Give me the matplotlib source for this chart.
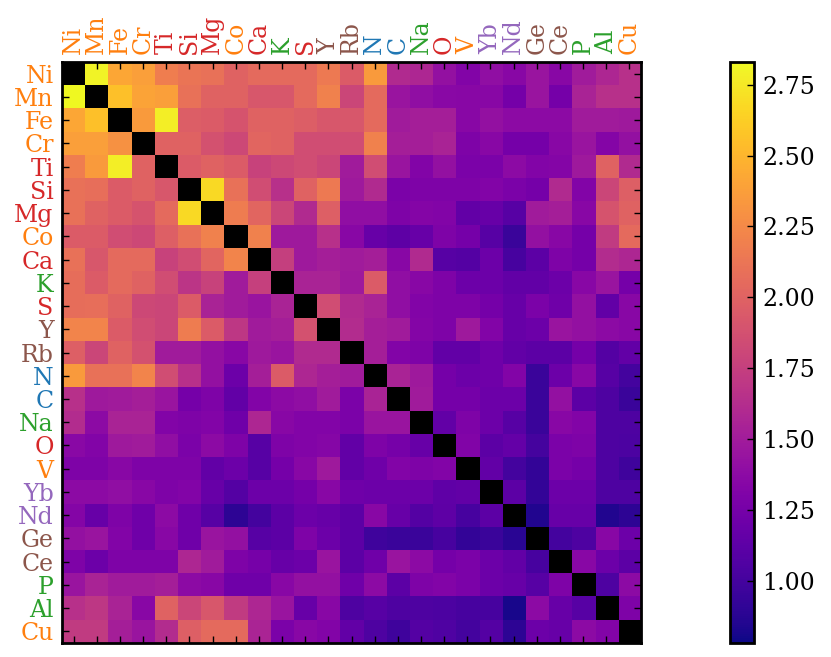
import numpy as np
import matplotlib
matplotlib.use("Agg")
import matplotlib.pyplot as plt

plt.rcParams['font.family'] = 'DejaVu Serif'

NAN = np.nan

elements = ["Ni", "Mn", "Fe", "Cr", "Ti", "Si", "Mg", "Co", "Ca", "K", "S", "Y", "Rb",
            "N", "C", "Na", "O", "V", "Yb", "Nd", "Ge", "Ce", "P", "Al", "Cu"]

# element group -> label colour
groups = ["iron", "iron", "iron", "iron", "alpha", "alpha", "alpha", "iron", "alpha", "odd",
          "alpha", "neutron", "neutron", "light", "light", "odd", "alpha", "iron", "rare",
          "rare", "neutron", "neutron", "odd", "odd", "iron"]
group_colors = {"iron": "#ff7f0e", "alpha": "#d62728", "odd": "#2ca02c",
                "neutron": "#8c564b", "light": "#1f77b4", "rare": "#9467bd"}

row_Ni = [NAN, 2.80, 2.42, 2.38, 2.18, 2.12, 2.10, 2.00, 2.05, 2.05, 2.05, 2.15, 1.95, 2.35, 1.60, 1.58, 1.42, 1.32, 1.40, 1.35, 1.45, 1.35, 1.50, 1.58, 1.65]
row_Mn = [2.83, NAN, 2.55, 2.40, 2.38, 2.10, 2.00, 2.00, 1.92, 1.92, 2.05, 2.20, 1.80, 2.05, 1.45, 1.40, 1.36, 1.35, 1.35, 1.25, 1.45, 1.25, 1.55, 1.65, 1.65]
row_Fe = [2.42, 2.55, NAN, 2.35, 2.78, 1.97, 1.95, 1.90, 2.00, 2.00, 1.97, 1.92, 1.92, 2.05, 1.50, 1.52, 1.52, 1.35, 1.42, 1.38, 1.38, 1.38, 1.50, 1.50, 1.48]
row_Cr = [2.38, 2.38, 2.30, NAN, 2.00, 2.00, 1.88, 1.82, 2.02, 2.00, 1.85, 1.85, 1.85, 2.20, 1.52, 1.52, 1.55, 1.30, 1.35, 1.25, 1.25, 1.35, 1.45, 1.33, 1.42]
row_Ti = [2.18, 2.35, 2.78, 2.00, NAN, 1.95, 2.00, 1.95, 1.78, 1.82, 1.85, 1.80, 1.50, 1.85, 1.45, 1.32, 1.42, 1.28, 1.28, 1.38, 1.32, 1.33, 1.48, 2.00, 1.60]
row_Si = [2.10, 2.08, 1.95, 2.00, 1.92, NAN, 2.68, 2.10, 1.85, 1.65, 2.00, 2.15, 1.48, 1.60, 1.28, 1.30, 1.30, 1.30, 1.32, 1.28, 1.25, 1.60, 1.32, 1.80, 1.98]
row_Mg = [2.10, 2.00, 1.95, 1.90, 2.05, 2.68, NAN, 2.17, 2.02, 1.80, 1.60, 1.98, 1.40, 1.40, 1.30, 1.33, 1.32, 1.15, 1.18, 1.10, 1.50, 1.52, 1.35, 1.90, 2.00]
row_Co = [1.95, 1.95, 1.85, 1.82, 1.98, 2.10, 2.20, NAN, 2.20, 1.48, 1.48, 1.65, 1.35, 1.18, 1.13, 1.18, 1.30, 1.25, 1.10, 0.95, 1.42, 1.35, 1.25, 1.72, 2.05]
row_Ca = [2.10, 1.92, 2.05, 2.05, 1.78, 1.85, 2.02, 2.22, NAN, 1.75, 1.48, 1.52, 1.50, 1.52, 1.35, 1.60, 1.10, 1.08, 1.20, 1.02, 1.12, 1.30, 1.25, 1.62, 1.58]
row_K = [2.07, 1.95, 2.05, 2.00, 1.85, 1.68, 1.78, 1.50, 1.76, NAN, 1.55, 1.55, 1.48, 1.95, 1.40, 1.35, 1.30, 1.20, 1.20, 1.15, 1.15, 1.20, 1.35, 1.45, 1.25]
row_S = [2.07, 2.08, 2.00, 1.82, 1.80, 1.95, 1.55, 1.50, 1.45, 1.55, NAN, 1.85, 1.60, 1.55, 1.40, 1.32, 1.30, 1.30, 1.25, 1.18, 1.28, 1.22, 1.42, 1.15, 1.35]
row_Y = [2.22, 2.22, 1.95, 1.85, 1.80, 2.17, 1.95, 1.70, 1.50, 1.52, 1.88, NAN, 1.62, 1.52, 1.50, 1.33, 1.30, 1.48, 1.32, 1.18, 1.20, 1.45, 1.42, 1.38, 1.35]
row_Rb = [1.98, 1.80, 2.00, 1.88, 1.50, 1.50, 1.42, 1.35, 1.48, 1.45, 1.60, 1.60, NAN, 1.52, 1.32, 1.30, 1.15, 1.15, 1.22, 1.15, 1.12, 1.12, 1.25, 1.08, 1.15]
row_N = [2.35, 2.10, 2.10, 2.22, 1.85, 1.65, 1.42, 1.20, 1.52, 1.95, 1.58, 1.52, 1.50, NAN, 1.55, 1.48, 1.25, 1.20, 1.22, 1.32, 0.95, 1.20, 1.35, 1.10, 1.00]
row_C = [1.65, 1.48, 1.50, 1.52, 1.45, 1.25, 1.30, 1.15, 1.32, 1.38, 1.40, 1.50, 1.28, 1.55, NAN, 1.50, 1.25, 1.25, 1.20, 1.20, 0.95, 1.42, 1.12, 1.05, 0.95]
row_Na = [1.62, 1.38, 1.55, 1.55, 1.32, 1.30, 1.32, 1.22, 1.58, 1.35, 1.32, 1.32, 1.28, 1.45, 1.45, NAN, 1.15, 1.30, 1.20, 1.10, 0.95, 1.35, 1.32, 1.05, 1.05]
row_O = [1.36, 1.32, 1.48, 1.50, 1.40, 1.28, 1.38, 1.30, 1.10, 1.30, 1.32, 1.34, 1.15, 1.30, 1.26, 1.18, NAN, 1.31, 1.12, 1.16, 1.01, 1.28, 1.30, 1.05, 1.04]
row_V = [1.30, 1.30, 1.35, 1.30, 1.30, 1.30, 1.15, 1.20, 1.10, 1.25, 1.35, 1.48, 1.15, 1.22, 1.32, 1.30, 1.32, NAN, 1.15, 1.00, 0.92, 1.28, 1.25, 1.05, 0.98]
row_Yb = [1.38, 1.38, 1.40, 1.35, 1.30, 1.32, 1.18, 1.08, 1.20, 1.20, 1.25, 1.35, 1.22, 1.20, 1.20, 1.20, 1.14, 1.15, NAN, 1.12, 0.92, 1.20, 1.20, 1.05, 1.05]
row_Nd = [1.33, 1.18, 1.30, 1.22, 1.38, 1.22, 1.10, 0.90, 1.00, 1.12, 1.20, 1.18, 1.12, 1.35, 1.18, 1.08, 1.13, 1.02, 1.12, NAN, 0.85, 1.18, 1.18, 0.85, 0.90]
row_Ge = [1.42, 1.45, 1.32, 1.22, 1.35, 1.22, 1.45, 1.42, 1.10, 1.12, 1.30, 1.20, 1.12, 0.98, 0.95, 0.95, 1.02, 0.92, 0.95, 0.88, NAN, 1.00, 1.05, 1.35, 1.20]
row_Ce = [1.30, 1.20, 1.30, 1.30, 1.30, 1.58, 1.50, 1.30, 1.26, 1.18, 1.20, 1.45, 1.12, 1.22, 1.45, 1.38, 1.25, 1.28, 1.20, 1.15, 1.02, NAN, 1.35, 1.20, 1.12]
row_P = [1.45, 1.55, 1.50, 1.50, 1.52, 1.38, 1.35, 1.22, 1.22, 1.35, 1.42, 1.42, 1.22, 1.38, 1.12, 1.30, 1.32, 1.28, 1.20, 1.18, 1.10, 1.30, NAN, 1.05, 1.38]
row_Al = [1.65, 1.70, 1.55, 1.35, 2.00, 1.80, 1.92, 1.72, 1.58, 1.45, 1.18, 1.35, 1.05, 1.10, 1.05, 1.05, 1.04, 1.02, 1.02, 0.82, 1.38, 1.18, 1.10, NAN, 1.30]
row_Cu = [1.72, 1.72, 1.52, 1.45, 1.62, 1.98, 2.05, 2.05, 1.56, 1.28, 1.35, 1.32, 1.15, 1.05, 0.98, 1.08, 1.06, 1.00, 1.08, 0.90, 1.20, 1.18, 1.38, 1.32, NAN]

rows = [row_Ni, row_Mn, row_Fe, row_Cr, row_Ti, row_Si, row_Mg, row_Co, row_Ca, row_K,
        row_S, row_Y, row_Rb, row_N, row_C, row_Na, row_O, row_V, row_Yb, row_Nd,
        row_Ge, row_Ce, row_P, row_Al, row_Cu]

mat = np.ma.masked_invalid(np.array(rows))
n = len(elements)

cmap = plt.get_cmap("plasma").copy()
cmap.set_bad("black")

fig = plt.figure(figsize=(8.31, 6.57), dpi=100)
ax = fig.add_axes([0.0746, 0.0213, 0.6968, 0.8843])
im = ax.imshow(mat, cmap=cmap, vmin=0.78, vmax=2.83, interpolation="nearest", aspect="auto")

ax.set_xticks(np.arange(n))
ax.set_yticks(np.arange(n))
ax.set_xticklabels(elements, rotation=90, fontsize=17)
ax.set_yticklabels(elements, fontsize=17)
ax.tick_params(direction="in", length=5, width=1, top=True, bottom=True, left=True, right=True,
               labeltop=True, labelbottom=False, labelleft=True, labelright=False, pad=6)
for lbl, g in zip(ax.get_xticklabels(), groups):
    lbl.set_color(group_colors[g])
for lbl, g in zip(ax.get_yticklabels(), groups):
    lbl.set_color(group_colors[g])
for sp in ax.spines.values():
    sp.set_linewidth(2)

cax = fig.add_axes([0.8785, 0.0213, 0.0289, 0.8843])
cb = fig.colorbar(im, cax=cax, ticks=[1.0, 1.25, 1.5, 1.75, 2.0, 2.25, 2.5, 2.75], format="%.2f")
cb.outline.set_linewidth(2)
cax.tick_params(direction="in", length=5, width=1, labelsize=17, right=True, left=False, pad=6)

fig.savefig("out.png", dpi=100)
